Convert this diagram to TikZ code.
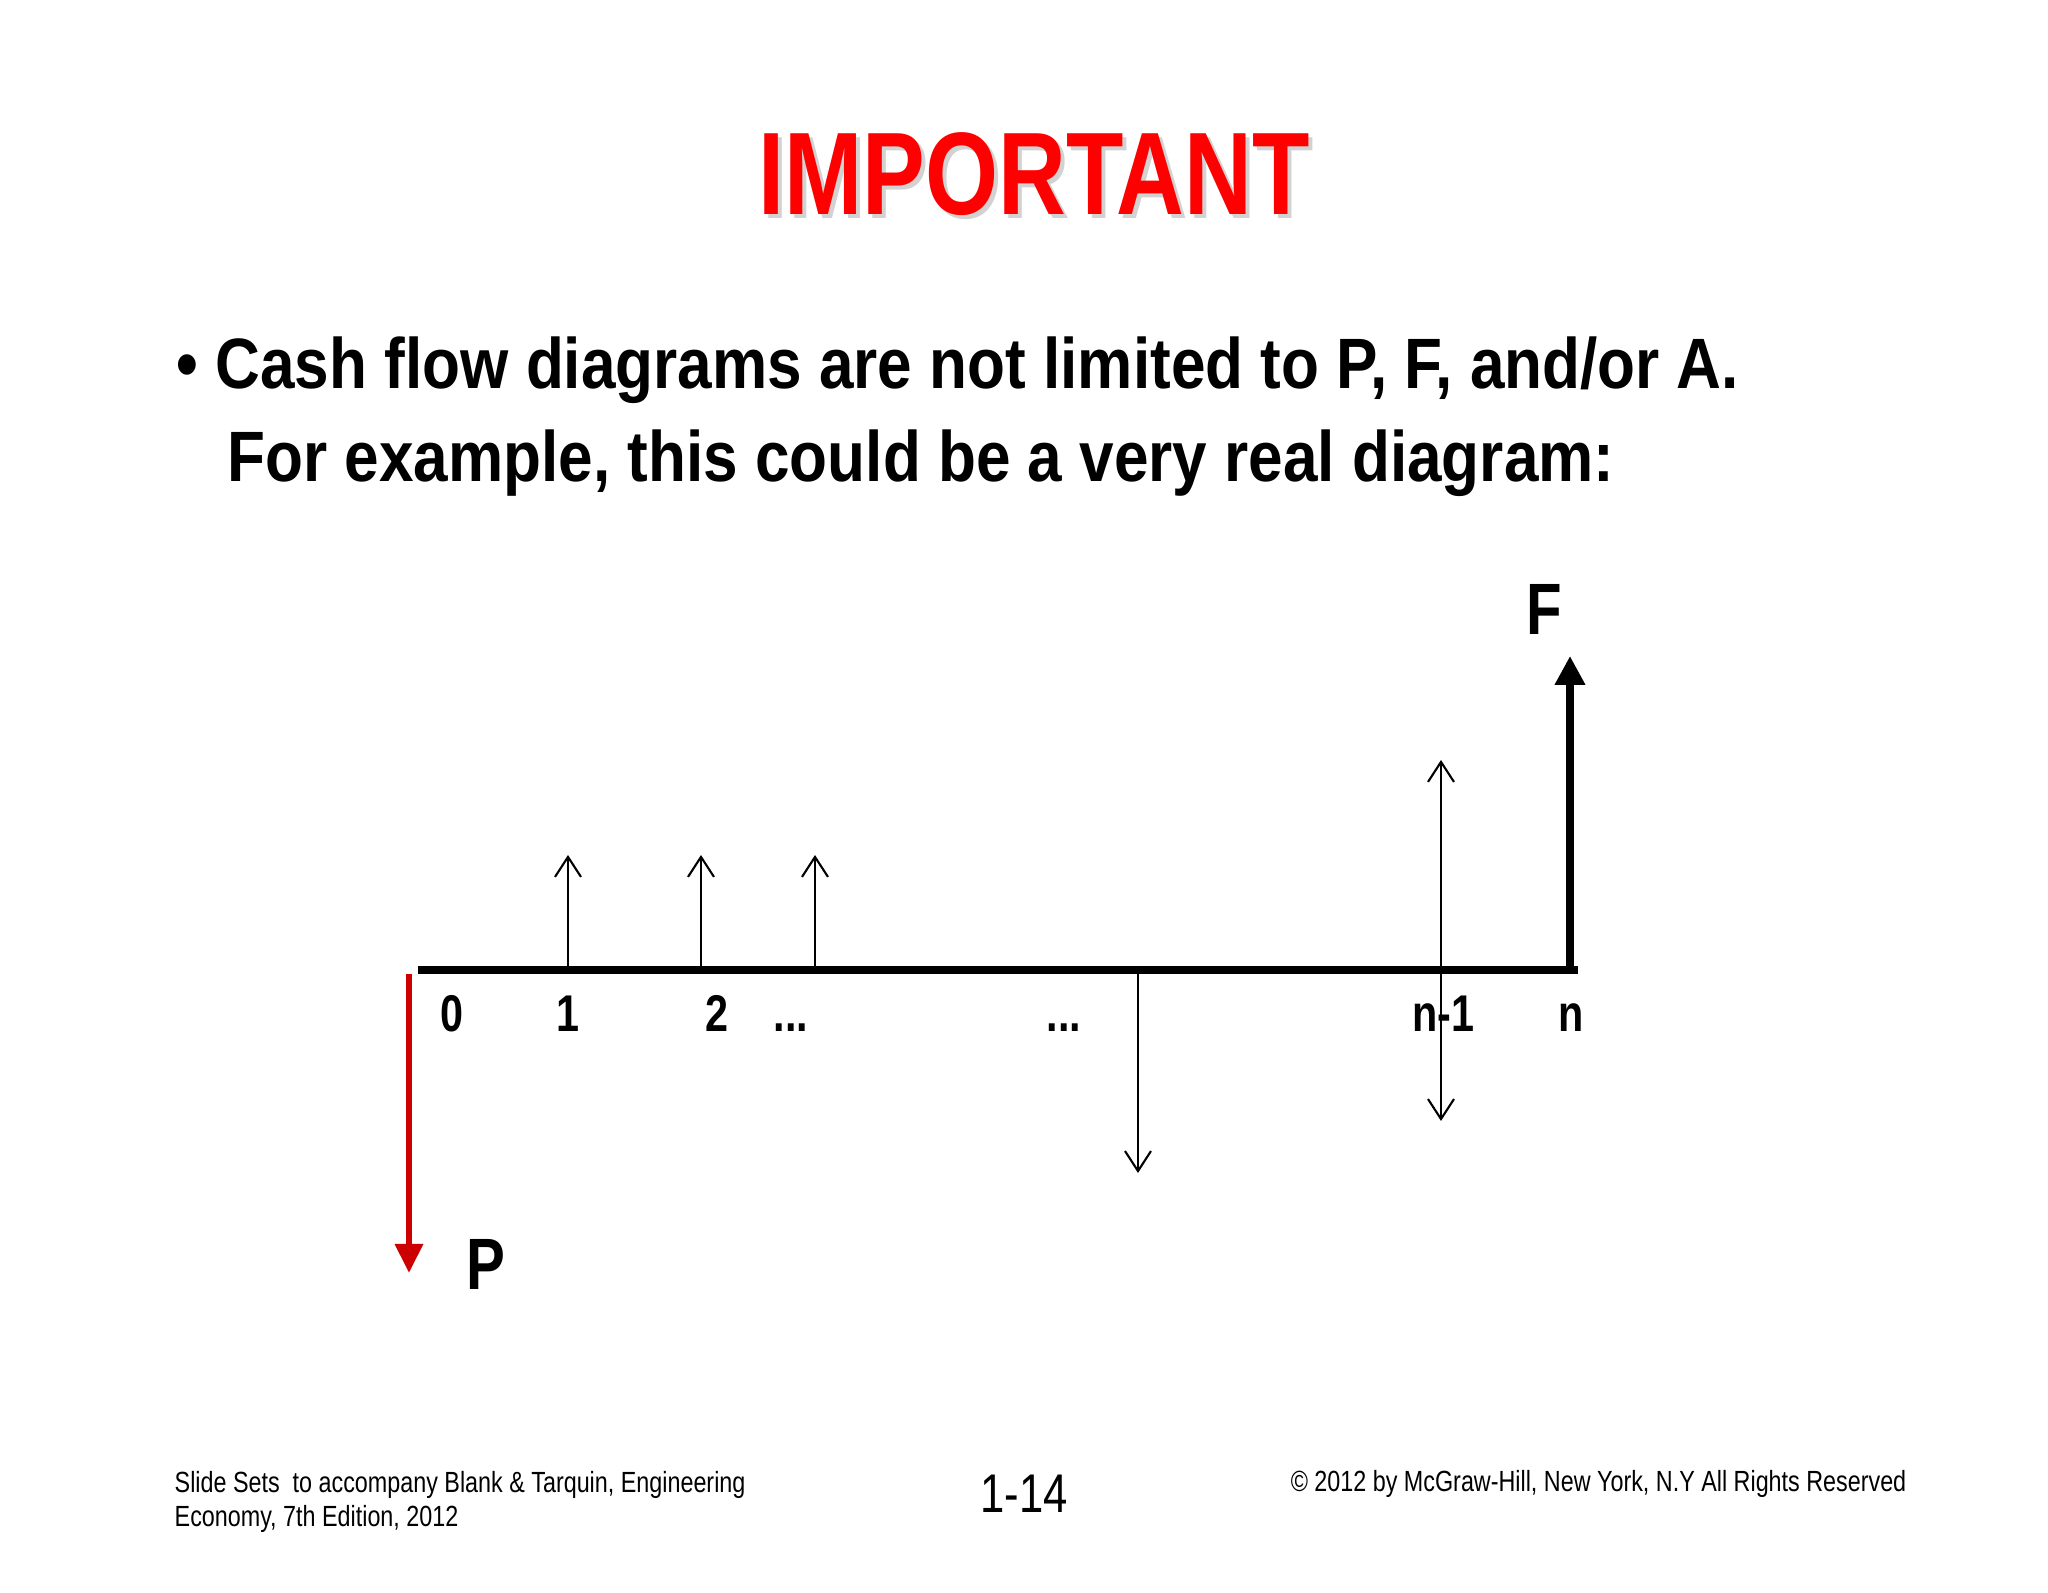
\documentclass[tikz,border=0pt]{standalone}
\usepackage{fontspec}
\setmainfont{Liberation Sans}[FakeStretch=0.80]
\newfontfamily\bodyfont{Liberation Sans}[FakeStretch=0.87]
\usetikzlibrary{arrows.meta}

\tikzset{
    tick/.style={font=\bfseries\fontsize{14.7}{16}\selectfont, inner sep=0pt, anchor=base},
    flow/.style={line width=0.6pt, -{Straight Barb[length=0.2cm, width=0.26cm, line width=0.6pt]}},
    big/.style={font=\bfseries\fontsize{20.7}{24}\selectfont, inner sep=0pt},
    body/.style={anchor=base west, font=\bodyfont\bfseries\fontsize{20.3}{24}\selectfont, inner sep=0pt},
    foot/.style={font=\fontsize{8.3}{9.7}\selectfont, inner sep=0pt, align=left}
}

\begin{document}
\begin{tikzpicture}
    \useasboundingbox (0,0) rectangle (20.48,15.93);
    \fill[white] (0,0) rectangle (20.48,15.93);

    % Title
    \node[text=gray!35, font=\bfseries\fontsize{33.4}{40}\selectfont, inner sep=0pt] at (10.38,14.15) {IMPORTANT};
    \node (title) [text=red, font=\bfseries\fontsize{33.4}{40}\selectfont, inner sep=0pt] at (10.34,14.19) {IMPORTANT};

    % Bullet text
    \node (line1) [body] at (1.76,12.04) {\textbullet\ Cash flow diagrams are not limited to P, F, and/or A.};
    \node (line2) [body] at (2.27,11.11) {For example, this could be a very real diagram:};

    % Time axis
    \coordinate (start) at (4.18,6.23);
    \coordinate (end) at (15.78,6.23);
    \draw[line width=2.3pt] (start) -- (end);

    % Points on the axis
    \coordinate (t1) at (5.68,6.23);
    \coordinate (t2) at (7.01,6.23);
    \coordinate (t3) at (8.15,6.23);
    \coordinate (tm) at (11.38,6.23);
    \coordinate (tn1) at (14.41,6.23);
    \coordinate (tn) at (15.70,6.19);

    % Arrow tops and bottoms
    \coordinate (u1) at (5.68,7.38);
    \coordinate (u2) at (7.01,7.38);
    \coordinate (u3) at (8.15,7.38);
    \coordinate (dm) at (11.38,4.20);
    \coordinate (un1) at (14.41,8.33);
    \coordinate (dn1) at (14.41,4.72);
    \coordinate (fTop) at (15.70,9.37);
    \coordinate (pTop) at (4.09,6.19);
    \coordinate (pBot) at (4.09,3.20);

    % Cash flows
    \draw[flow] (t1) -- (u1);
    \draw[flow] (t2) -- (u2);
    \draw[flow] (t3) -- (u3);
    \draw[flow] (tm) -- (dm);
    \draw[flow] (tn1) -- (un1);
    \draw[flow] (tn1) -- (dn1);

    % P and F
    \draw[line width=1.8pt, red!80!black, -{Triangle[length=0.29cm, width=0.27cm]}] (pTop) -- (pBot);
    \draw[line width=2pt, -{Triangle[length=0.29cm, width=0.29cm]}] (tn) -- (fTop);
    \node (P) [big] at (4.86,3.29) {P};
    \node (F) [big] at (15.44,9.84) {F};

    % Period labels
    \node (l0) [tick] at (4.52,5.61) {0};
    \node (l1) [tick] at (5.68,5.61) {1};
    \node (l2) [tick] at (7.17,5.61) {2};
    \node (d1) [tick] at (7.91,5.61) {...};
    \node (d2) [tick] at (10.64,5.61) {...};
    \node (ln1) [tick] at (14.43,5.61) {n-1};
    \node (ln) [tick] at (15.71,5.61) {n};

    % Footer
    \node (left) [foot, anchor=base west] at (1.74,0.66)
        {Slide Sets\ \ to accompany Blank \& Tarquin, Engineering\\Economy, 7th Edition, 2012};
    \node (page) [anchor=base, font=\fontsize{15.5}{18}\selectfont, inner sep=0pt] at (10.24,0.80) {1-14};
    \node (right) [foot, anchor=base east] at (19.07,1.01)
        {\textcopyright\ 2012 by McGraw-Hill, New York, N.Y All Rights Reserved};
\end{tikzpicture}
\end{document}
